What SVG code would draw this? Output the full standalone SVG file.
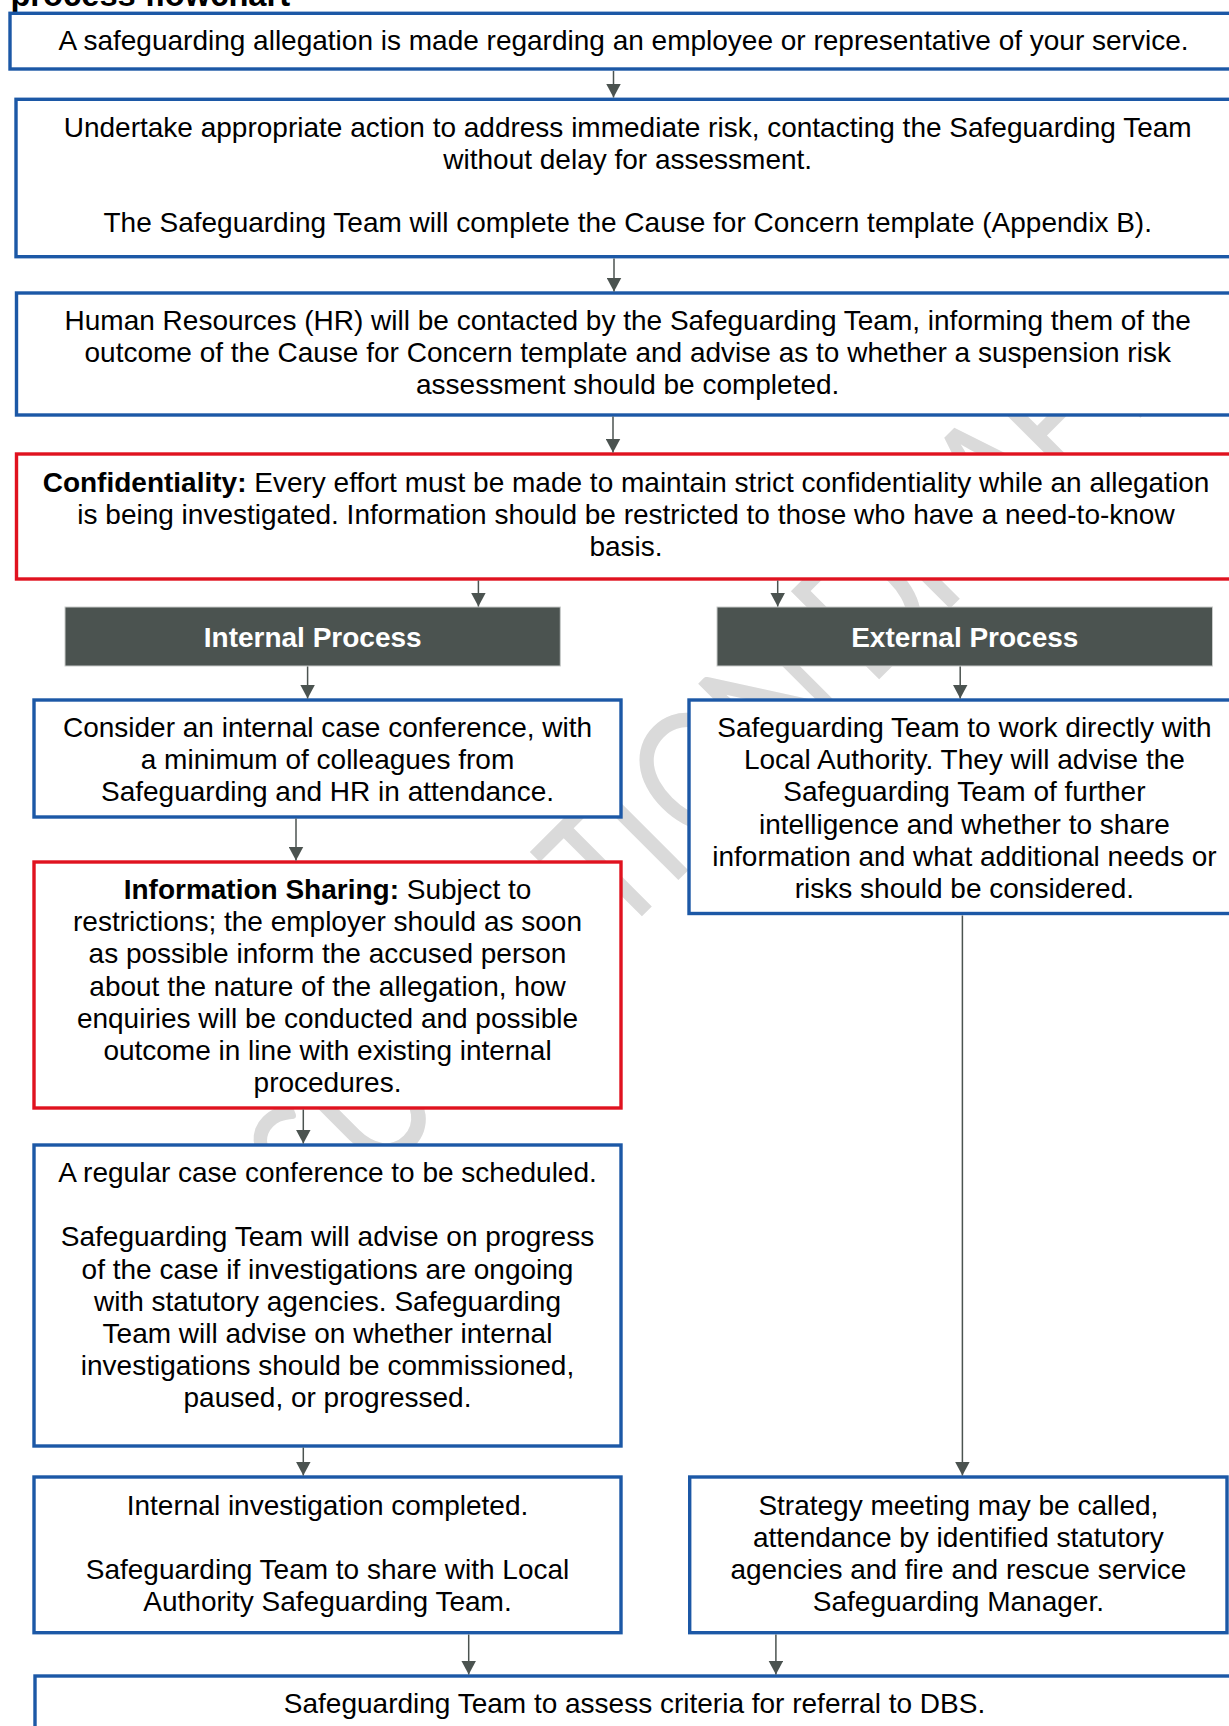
<svg xmlns="http://www.w3.org/2000/svg" width="1229" height="1726" viewBox="0 0 1229 1726">
<defs>
<style>
.box{fill:#ffffff;stroke:#1c58a6;stroke-width:3.4}
.red{fill:#ffffff;stroke:#e0121f;stroke-width:3.4}
.hdr{fill:#4b5350;stroke:#c9cbca;stroke-width:1}
.t{font-family:"Liberation Sans",Arial,sans-serif;font-size:28px;fill:#000000;text-anchor:middle}
.b{font-weight:bold}
.ht{font-family:"Liberation Sans",Arial,sans-serif;font-size:28px;font-weight:bold;fill:#ffffff;text-anchor:middle}
.title{font-family:"Liberation Sans",Arial,sans-serif;font-size:32.7px;font-weight:bold;fill:#000000}
.wm{font-family:Lato,"Noto Sans",sans-serif;font-size:145px;fill:#dadada}
.c{stroke:#4b5350;stroke-width:1.5;fill:none;marker-end:url(#ah)}
</style>
<marker id="ah" markerUnits="userSpaceOnUse" markerWidth="15" markerHeight="15" refX="14" refY="7.5" orient="auto">
<path d="M0,0 L14,7.5 L0,15 Z" fill="#4b5350"/>
</marker>
</defs>
<rect x="0" y="0" width="1229" height="1726" fill="#ffffff"/>
<text class="wm" transform="rotate(-45) scale(1,1.2)" x="-943 -857 -750 -645 -571 -465 -400 -322 -230 -156 -110 -3 102 128 228 316 405 475" y="918.3">CONSULTATION DRAFT</text>
<text class="title" x="10.4" y="5.5">process flowchart</text>

<g id="n1"><rect class="box" x="10" y="13.3" width="1227" height="55.7"/>
<text class="t" x="623.5" y="50">A safeguarding allegation is made regarding an employee or representative of your service.</text></g>

<g id="n2"><rect class="box" x="16" y="99.3" width="1224" height="157.4"/>
<text class="t" x="627.7" y="136.7">Undertake appropriate action to address immediate risk, contacting the Safeguarding Team</text>
<text class="t" x="627.7" y="168.6">without delay for assessment.</text>
<text class="t" x="627.7" y="232">The Safeguarding Team will complete the Cause for Concern template (Appendix B).</text></g>

<g id="n3"><rect class="box" x="16.5" y="293" width="1222" height="122"/>
<text class="t" x="627.7" y="330">Human Resources (HR) will be contacted by the Safeguarding Team, informing them of the</text>
<text class="t" x="627.7" y="362.2">outcome of the Cause for Concern template and advise as to whether a suspension risk</text>
<text class="t" x="627.7" y="394.4">assessment should be completed.</text></g>

<g id="n4"><rect class="red" x="16.5" y="454" width="1219" height="125"/>
<text class="t" x="626" y="491.5"><tspan class="b">Confidentiality:</tspan> Every effort must be made to maintain strict confidentiality while an allegation</text>
<text class="t" x="626" y="523.7">is being investigated. Information should be restricted to those who have a need-to-know</text>
<text class="t" x="626" y="555.9">basis.</text></g>

<g id="h1"><rect class="hdr" x="65" y="607" width="495.3" height="59"/>
<text class="ht" x="312.7" y="646.7">Internal Process</text></g>

<g id="h2"><rect class="hdr" x="717" y="607" width="495.5" height="59"/>
<text class="ht" x="964.8" y="646.7">External Process</text></g>

<g id="n5"><rect class="box" x="34" y="700" width="587" height="117"/>
<text class="t" x="327.5" y="737">Consider an internal case conference, with</text>
<text class="t" x="327.5" y="769.2">a minimum of colleagues from</text>
<text class="t" x="327.5" y="801.4">Safeguarding and HR in attendance.</text></g>

<g id="n6"><rect class="box" x="689" y="700" width="551" height="213.5"/>
<text class="t" x="964.4" y="737">Safeguarding Team to work directly with</text>
<text class="t" x="964.4" y="769.2">Local Authority. They will advise the</text>
<text class="t" x="964.4" y="801.4">Safeguarding Team of further</text>
<text class="t" x="964.4" y="833.6">intelligence and whether to share</text>
<text class="t" x="964.4" y="865.8">information and what additional needs or</text>
<text class="t" x="964.4" y="898">risks should be considered.</text></g>

<g id="n7"><rect class="red" x="34" y="862" width="587" height="246"/>
<text class="t" x="327.5" y="899"><tspan class="b">Information Sharing:</tspan> Subject to</text>
<text class="t" x="327.5" y="931.2">restrictions; the employer should as soon</text>
<text class="t" x="327.5" y="963.4">as possible inform the accused person</text>
<text class="t" x="327.5" y="995.6">about the nature of the allegation, how</text>
<text class="t" x="327.5" y="1027.8">enquiries will be conducted and possible</text>
<text class="t" x="327.5" y="1060">outcome in line with existing internal</text>
<text class="t" x="327.5" y="1092.2">procedures.</text></g>

<g id="n8"><rect class="box" x="34" y="1145" width="587" height="301"/>
<text class="t" x="327.5" y="1182">A regular case conference to be scheduled.</text>
<text class="t" x="327.5" y="1246.4">Safeguarding Team will advise on progress</text>
<text class="t" x="327.5" y="1278.6">of the case if investigations are ongoing</text>
<text class="t" x="327.5" y="1310.8">with statutory agencies. Safeguarding</text>
<text class="t" x="327.5" y="1343">Team will advise on whether internal</text>
<text class="t" x="327.5" y="1375.2">investigations should be commissioned,</text>
<text class="t" x="327.5" y="1407.4">paused, or progressed.</text></g>

<g id="n9"><rect class="box" x="34" y="1477" width="587" height="155.7"/>
<text class="t" x="327.5" y="1514.5">Internal investigation completed.</text>
<text class="t" x="327.5" y="1578.9">Safeguarding Team to share with Local</text>
<text class="t" x="327.5" y="1611.1">Authority Safeguarding Team.</text></g>

<g id="n10"><rect class="box" x="689.7" y="1477" width="537.3" height="155.7"/>
<text class="t" x="958.4" y="1514.5">Strategy meeting may be called,</text>
<text class="t" x="958.4" y="1546.7">attendance by identified statutory</text>
<text class="t" x="958.4" y="1578.9">agencies and fire and rescue service</text>
<text class="t" x="958.4" y="1611.1">Safeguarding Manager.</text></g>

<g id="n11"><rect class="box" x="35" y="1676" width="1199" height="80"/>
<text class="t" x="634.5" y="1713.3">Safeguarding Team to assess criteria for referral to DBS.</text></g>

<g id="connectors">
<line class="c" x1="613.5" y1="71" x2="613.5" y2="97.5"/>
<line class="c" x1="614" y1="258.5" x2="614" y2="291.5"/>
<line class="c" x1="613" y1="416.5" x2="613" y2="452.5"/>
<line class="c" x1="478.4" y1="580.5" x2="478.4" y2="606.5"/>
<line class="c" x1="777.7" y1="580.5" x2="777.7" y2="606.5"/>
<line class="c" x1="307.6" y1="666.5" x2="307.6" y2="698.5"/>
<line class="c" x1="960.2" y1="666.5" x2="960.2" y2="698.5"/>
<line class="c" x1="296" y1="818.5" x2="296" y2="860.5"/>
<line class="c" x1="303.3" y1="1109.5" x2="303.3" y2="1143.5"/>
<line class="c" x1="303.3" y1="1447.5" x2="303.3" y2="1475.5"/>
<line class="c" x1="962.4" y1="915.5" x2="962.4" y2="1475.5"/>
<line class="c" x1="468.7" y1="1634.5" x2="468.7" y2="1674.5"/>
<line class="c" x1="775.9" y1="1634.5" x2="775.9" y2="1674.5"/>
</g>
</svg>
